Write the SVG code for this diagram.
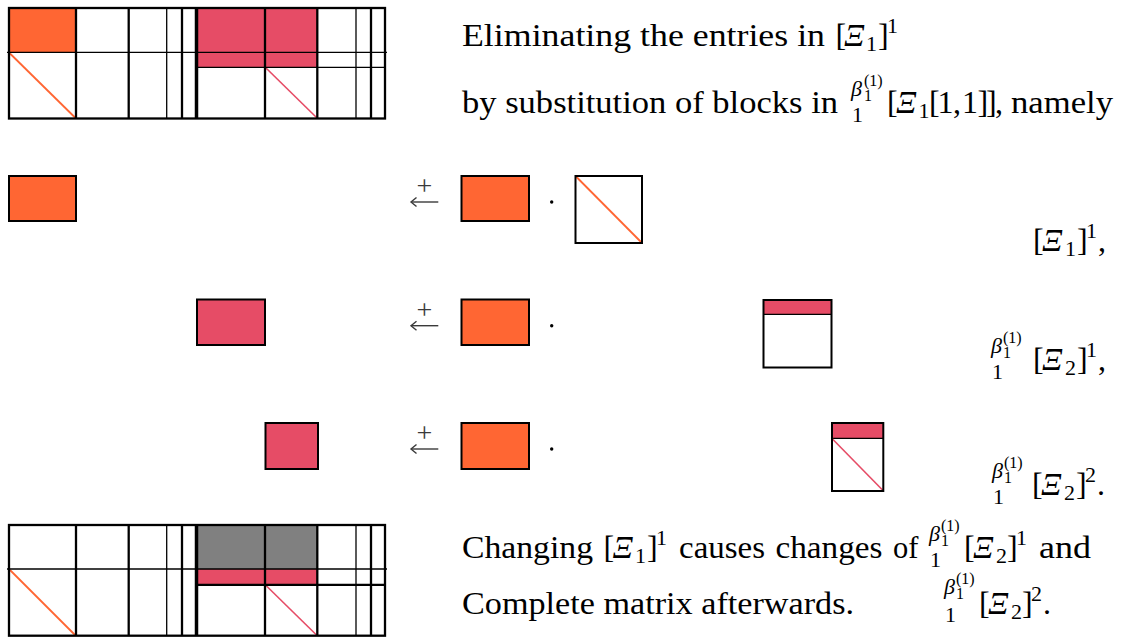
<svg xmlns="http://www.w3.org/2000/svg" width="1127" height="637" viewBox="0 0 1127 637">
<style>
text{font-family:'Liberation Serif','DejaVu Serif','Noto Serif',serif}
.tx{fill:#000}
.m{font-size:32px}
.sc{font-size:22px}
.ss{font-size:16px}
.it{font-style:italic}
.op{font-size:28px;fill:#3a3a3a;text-anchor:middle}
.or{fill:#FF6633}
.rd{fill:#E64C66}
.gy{fill:#808080}
.bx{fill:none;stroke:#000;stroke-width:2}
.ln{stroke:#000;stroke-width:1.3}
.lk{stroke:#000;stroke-width:2.3}
.lx{stroke:#000;stroke-width:3.5}
.dor{stroke:#FF6633;stroke-width:1.8}
.drd{stroke:#E64C66;stroke-width:1.6}
.arr{fill:none;stroke:#3a3a3a;stroke-width:1.4}
</style>

<g id="matrix-top">
  <rect class="or" x="9" y="8" width="67" height="44.5"/>
  <rect class="rd" x="196" y="8" width="121.3" height="59.3"/>
  <line class="dor" x1="10" y1="53.5" x2="75" y2="117.5"/>
  <line class="drd" x1="266" y1="68" x2="316.5" y2="117.5"/>
  <line class="ln" x1="7" y1="52.4" x2="387" y2="52.4"/>
  <line class="ln" x1="196" y1="67.3" x2="385" y2="67.3"/>
  <line class="lk" x1="76" y1="8" x2="76" y2="118.5"/>
  <line class="lk" x1="128.7" y1="8" x2="128.7" y2="118.5"/>
  <line class="ln" x1="166.7" y1="8" x2="166.7" y2="118.5"/>
  <line class="lk" x1="182" y1="8" x2="182" y2="118.5"/>
  <line class="lx" x1="196.5" y1="8" x2="196.5" y2="118.5"/>
  <line class="lk" x1="265" y1="8" x2="265" y2="118.5"/>
  <line class="lk" x1="317.3" y1="8" x2="317.3" y2="118.5"/>
  <line class="ln" x1="356" y1="8" x2="356" y2="118.5"/>
  <line class="lk" x1="371" y1="8" x2="371" y2="118.5"/>
  <rect x="9" y="8" width="376" height="110.5" fill="none" stroke="#000" stroke-width="2.3"/>
</g>

<g id="matrix-bottom">
  <rect class="gy" x="196" y="525" width="121.3" height="44"/>
  <rect class="rd" x="196" y="569" width="121.3" height="15.8"/>
  <line class="dor" x1="10" y1="570" x2="75" y2="635"/>
  <line class="drd" x1="266" y1="585.5" x2="316.5" y2="635"/>
  <line class="ln" x1="7" y1="569" x2="387" y2="569"/>
  <line class="lk" x1="196" y1="584.8" x2="385" y2="584.8"/>
  <line class="lk" x1="76" y1="525" x2="76" y2="635.7"/>
  <line class="lk" x1="128.7" y1="525" x2="128.7" y2="635.7"/>
  <line class="ln" x1="166.7" y1="525" x2="166.7" y2="635.7"/>
  <line class="lk" x1="182" y1="525" x2="182" y2="635.7"/>
  <line class="lx" x1="196.5" y1="525" x2="196.5" y2="635.7"/>
  <line class="lk" x1="265" y1="525" x2="265" y2="635.7"/>
  <line class="lk" x1="317.3" y1="525" x2="317.3" y2="635.7"/>
  <line class="ln" x1="356" y1="525" x2="356" y2="635.7"/>
  <line class="lk" x1="371" y1="525" x2="371" y2="635.7"/>
  <rect x="9" y="525" width="376" height="110.7" fill="none" stroke="#000" stroke-width="2.3"/>
</g>

<g id="row1">
  <g id="r1-target"><rect class="or" x="9" y="176" width="67" height="45"/><rect class="bx" x="9" y="176" width="67" height="45"/></g>
  <g id="r1-factor"><rect class="or" x="461.5" y="176" width="67.5" height="45"/><rect class="bx" x="461.5" y="176" width="67.5" height="45"/></g>
  <circle cx="551.7" cy="202" r="1.7" fill="#000"/>
  <g id="r1-block"><rect x="575.5" y="176" width="66.5" height="67" fill="#fff"/><line class="dor" x1="576" y1="176.5" x2="641.5" y2="242.5"/><rect class="bx" x="575.5" y="176" width="66.5" height="67"/></g>
</g>

<g id="row2">
  <g id="r2-target"><rect class="rd" x="197" y="299.5" width="68" height="45.5"/><rect class="bx" x="197" y="299.5" width="68" height="45.5"/></g>
  <g id="r2-factor"><rect class="or" x="461.5" y="299.5" width="67.5" height="45.5"/><rect class="bx" x="461.5" y="299.5" width="67.5" height="45.5"/></g>
  <circle cx="551.7" cy="325.7" r="1.7" fill="#000"/>
  <g id="r2-block"><rect class="rd" x="763.5" y="300" width="68" height="14.3"/><line class="ln" x1="763.5" y1="314.3" x2="831.5" y2="314.3"/><rect class="bx" x="763.5" y="300" width="68" height="67.5"/></g>
</g>

<g id="row3">
  <g id="r3-target"><rect class="rd" x="265.5" y="423" width="52.5" height="46"/><rect class="bx" x="265.5" y="423" width="52.5" height="46"/></g>
  <g id="r3-factor"><rect class="or" x="461.5" y="423" width="67.5" height="46"/><rect class="bx" x="461.5" y="423" width="67.5" height="46"/></g>
  <circle cx="551.7" cy="449" r="1.7" fill="#000"/>
  <g id="r3-block"><rect class="rd" x="832" y="423" width="51.3" height="15.3"/><line class="ln" x1="832" y1="438.3" x2="883.3" y2="438.3"/><line class="drd" x1="832.5" y1="439" x2="883" y2="490.5"/><rect class="bx" x="832" y="423" width="51.3" height="68"/></g>
</g>

<g id="connectors">
  <g id="arrow1"><line class="arr" x1="411" y1="202" x2="438.3" y2="202"/><path class="arr" d="M416.5,197.5 L411,202 L416.5,206.5"/><text class="op" x="424.5" y="195">+</text></g>
  <g id="arrow2"><line class="arr" x1="411" y1="325.7" x2="438.3" y2="325.7"/><path class="arr" d="M416.5,321.2 L411,325.7 L416.5,330.2"/><text class="op" x="424.5" y="318.7">+</text></g>
  <g id="arrow3"><line class="arr" x1="411" y1="449" x2="438.3" y2="449"/><path class="arr" d="M416.5,444.5 L411,449 L416.5,453.5"/><text class="op" x="424.5" y="442">+</text></g>
</g>

<g id="text-top">
  <text class="tx m" x="462" y="46" textLength="363" lengthAdjust="spacingAndGlyphs">Eliminating the entries in</text>
  <text class="tx m" x="835.5" y="46">[</text>
  <text class="tx m it" x="844" y="46">Ξ</text>
  <text class="tx sc" x="866" y="51">1</text>
  <text class="tx m" x="878" y="46">]</text>
  <text class="tx sc" x="887" y="33">1</text>

  <text class="tx m" x="462" y="113" textLength="376" lengthAdjust="spacingAndGlyphs">by substitution of blocks in</text>
  <text class="tx sc it" x="851" y="96">β</text>
  <text class="tx ss" x="864" y="101">1</text>
  <text class="tx ss" x="864" y="86">(1)</text>
  <text class="tx sc" x="852" y="122">1</text>
  <text class="tx m" x="887" y="113">[</text>
  <text class="tx m it" x="896" y="113">Ξ</text>
  <text class="tx sc" x="918.5" y="118">1</text>
  <text class="tx m" x="929" y="113">[</text>
  <text class="tx m" x="937.5" y="113">1</text>
  <text class="tx m" x="953" y="113">,</text>
  <text class="tx m" x="962" y="113">1</text>
  <text class="tx m" x="977.5" y="113">]</text>
  <text class="tx m" x="986" y="113">]</text>
  <text class="tx m" x="995" y="113">,</text>
  <text class="tx m" x="1011" y="113" textLength="102" lengthAdjust="spacingAndGlyphs">namely</text>
</g>

<g id="label-row1">
  <text class="tx m" x="1033" y="251">[</text>
  <text class="tx m it" x="1042" y="251">Ξ</text>
  <text class="tx sc" x="1065" y="256">1</text>
  <text class="tx m" x="1077" y="251">]</text>
  <text class="tx sc" x="1086" y="238">1</text>
  <text class="tx m" x="1098" y="251">,</text>
</g>

<g id="label-row2">
  <text class="tx sc it" x="991" y="353">β</text>
  <text class="tx ss" x="1003" y="358">1</text>
  <text class="tx ss" x="1003" y="343">(1)</text>
  <text class="tx sc" x="992" y="379">1</text>
  <text class="tx m" x="1033" y="370">[</text>
  <text class="tx m it" x="1042" y="370">Ξ</text>
  <text class="tx sc" x="1065" y="375">2</text>
  <text class="tx m" x="1077" y="370">]</text>
  <text class="tx sc" x="1086" y="357">1</text>
  <text class="tx m" x="1098" y="370">,</text>
</g>

<g id="label-row3">
  <text class="tx sc it" x="992" y="478">β</text>
  <text class="tx ss" x="1004" y="483">1</text>
  <text class="tx ss" x="1004" y="468">(1)</text>
  <text class="tx sc" x="993" y="504">1</text>
  <text class="tx m" x="1032" y="495">[</text>
  <text class="tx m it" x="1041" y="495">Ξ</text>
  <text class="tx sc" x="1064" y="500">2</text>
  <text class="tx m" x="1076" y="495">]</text>
  <text class="tx sc" x="1085" y="482">2</text>
  <text class="tx m" x="1097" y="495">.</text>
</g>

<g id="text-bottom">
  <text class="tx m" x="462" y="558" textLength="131" lengthAdjust="spacingAndGlyphs">Changing</text>
  <text class="tx m" x="603.5" y="558">[</text>
  <text class="tx m it" x="612.5" y="558">Ξ</text>
  <text class="tx sc" x="635" y="563">1</text>
  <text class="tx m" x="647" y="558">]</text>
  <text class="tx sc" x="656" y="545">1</text>
  <text class="tx m" x="679" y="558" textLength="86" lengthAdjust="spacingAndGlyphs">causes</text>
  <text class="tx m" x="775.5" y="558" textLength="107" lengthAdjust="spacingAndGlyphs">changes</text>
  <text class="tx m" x="893" y="558" textLength="25.4" lengthAdjust="spacingAndGlyphs">of</text>
  <text class="tx sc it" x="929" y="541">β</text>
  <text class="tx ss" x="941" y="546">1</text>
  <text class="tx ss" x="941" y="531">(1)</text>
  <text class="tx sc" x="930" y="567">1</text>
  <text class="tx m" x="964" y="558">[</text>
  <text class="tx m it" x="973" y="558">Ξ</text>
  <text class="tx sc" x="996" y="563">2</text>
  <text class="tx m" x="1007" y="558">]</text>
  <text class="tx sc" x="1016" y="545">1</text>
  <text class="tx m" x="1039" y="558" textLength="52" lengthAdjust="spacingAndGlyphs">and</text>

  <text class="tx m" x="462" y="614" textLength="392" lengthAdjust="spacingAndGlyphs">Complete matrix afterwards.</text>
  <text class="tx sc it" x="944" y="594">β</text>
  <text class="tx ss" x="956" y="599">1</text>
  <text class="tx ss" x="956" y="584">(1)</text>
  <text class="tx sc" x="945" y="622">1</text>
  <text class="tx m" x="979" y="614">[</text>
  <text class="tx m it" x="988" y="614">Ξ</text>
  <text class="tx sc" x="1011" y="619">2</text>
  <text class="tx m" x="1022" y="614">]</text>
  <text class="tx sc" x="1031" y="601">2</text>
  <text class="tx m" x="1043" y="614">.</text>
</g>
</svg>
